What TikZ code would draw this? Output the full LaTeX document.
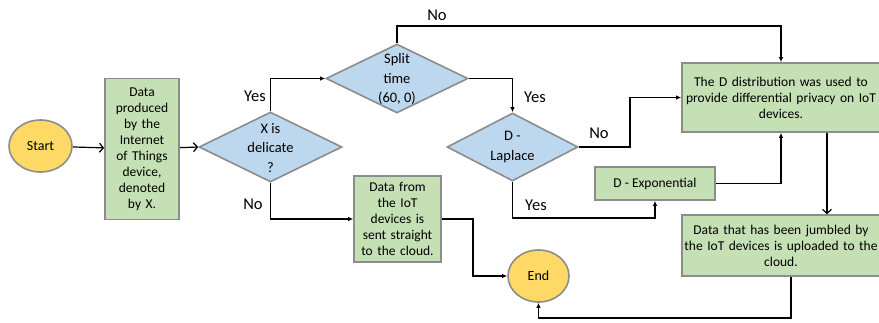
\documentclass[tikz,border=0pt]{standalone}
\usepackage{fontspec}
\setmainfont{Carlito}
\usetikzlibrary{shapes.geometric,arrows.meta}
\definecolor{bgreen}{HTML}{C5E0B4}
\definecolor{bblue}{HTML}{BDD7EE}
\definecolor{byellow}{HTML}{FFD966}
\definecolor{bgray}{HTML}{8C8C8C}
\tikzset{
  base/.style={draw=bgray, line width=1.6pt, inner sep=0pt, align=center},
  term/.style={base, ellipse, fill=byellow, font=\fontsize{14}{17}\selectfont},
  boxn/.style={base, rectangle, fill=bgreen, font=\fontsize{13.5}{16}\selectfont},
  dia/.style={base, diamond, fill=bblue, aspect=2},
  diatext/.style={align=center, inner sep=0pt, font=\fontsize{14.5}{19.5}\selectfont},
  lab/.style={inner sep=0pt, font=\fontsize{16.5}{19}\selectfont},
  conn/.style={line width=1.2pt, draw=black},
  openarr/.style={conn, -{Straight Barb[length=4pt,width=9pt,line width=1.2pt]}},
  fillarr/.style={conn, -{Latex[length=5pt,width=4.5pt]}},
  plain/.style={conn}
}
\begin{document}
\begin{tikzpicture}[x=1pt,y=-1pt]
\useasboundingbox (0,0) rectangle (879,322);
% nodes
\node[term, minimum width=63pt, minimum height=52pt] (start) at (40.5,146) {Start};
\node[boxn, minimum width=74pt, minimum height=141pt, text width=72pt] (data) at (142,149)
  {Data\\produced\\by the\\Internet\\of Things\\device,\\denoted\\by X.};
\node[dia, minimum width=143pt, minimum height=70pt] (xdel) at (270.5,147) {};
\node[diatext] (xdelt) at (270.5,148) {X is\\delicate\\?};
\node[dia, minimum width=142pt, minimum height=69pt] (split) at (397,78.5) {};
\node[diatext] (splitt) at (397,79) {Split\\time\\(60, 0)};
\node[dia, minimum width=131pt, minimum height=68pt] (lap) at (512.5,147) {};
\node[diatext] (lapt) at (512.5,147) {D -\\Laplace};
\node[boxn, minimum width=120pt, minimum height=33pt] (exp) at (655,183.5) {D - Exponential};
\node[boxn, minimum width=198pt, minimum height=69pt, text width=196pt] (thed) at (781,97.5)
  {The D distribution was used to\\provide differential privacy on IoT\\devices.};
\node[boxn, minimum width=198pt, minimum height=61pt, text width=196pt] (jum) at (781,245.5)
  {Data that has been jumbled by\\the IoT devices is uploaded to the\\cloud.};
\node[boxn, minimum width=87pt, minimum height=86pt, text width=85pt] (dfrom) at (397.5,219)
  {Data from\\the IoT\\devices is\\sent straight\\to the cloud.};
\node[term, minimum width=61pt, minimum height=52pt] (endn) at (538.5,276) {End};
% helper coordinates
\coordinate (topc) at (397,26);
\coordinate (lapr) at (630,147);
\coordinate (lapb) at (655,218);
\coordinate (dfr) at (473,219);
\coordinate (botc) at (791,318);
% connectors
\draw[openarr] (start) -- (data);
\draw[openarr] (data) -- (xdel.west);
\draw[fillarr] (xdel.north) |- (split.west);
\draw[fillarr] (xdel.south) |- (dfrom.west);
\draw[fillarr] (split.north) -- (topc) -| (thed.north);
\draw[fillarr] (split.east) -| (lap.north);
\draw[fillarr] (lap.east) -- (lapr) |- (thed.west);
\draw[fillarr] (lap.south) |- (lapb) -- (exp.south);
\draw[fillarr] (exp.east) -| (thed.south);
\draw[openarr] ([xshift=46pt]thed.south) -- ([xshift=46pt]thed.south |- jum.north);
\draw[fillarr] (jum.south -| botc) -- (botc) -| (endn.south);
\draw[fillarr] (dfrom.east) -- (dfr) |- (endn.west);
% labels
\node[lab] (lyes1) at (255,96) {Yes};
\node[lab] (lno1) at (253,204) {No};
\node[lab] (lno2) at (437,15) {No};
\node[lab] (lyes2) at (535,97) {Yes};
\node[lab] (lno3) at (599,133) {No};
\node[lab] (lyes3) at (536,205) {Yes};
\end{tikzpicture}
\end{document}
